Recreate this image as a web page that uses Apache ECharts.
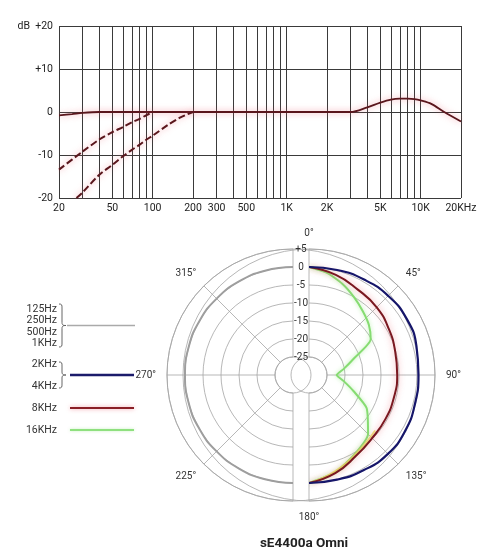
<!DOCTYPE html>
<html><head><meta charset="utf-8">
<script src="https://cdn.jsdelivr.net/npm/echarts@6/dist/echarts.min.js"></script>
<style>html,body{margin:0;padding:0;background:#fff}#c{width:500px;height:559px}</style>
</head><body><div id="c"></div>
<script>
// ---- Frequency response (top) ----
const freqGrid = [20,30,40,50,60,70,80,90,100,200,300,400,500,600,700,800,900,1000,2000,3000,4000,5000,6000,7000,8000,9000,10000,20000];
const freqTickLabels = ['20','','','50','','','','','100','200','300','','500','','','','','1K','2K','','','5K','','','','','10K','20KHz'];
const dbTicks = [-20,-10,0,10,20];

const respFreq = [20,25,30,40,60,100,300,1000,2000,3000,4000,5000,6000,7000,8000,9000,10000,12000,15000,20000];
const respDb   = [-0.8,-0.5,-0.2,0,0,0,0,0,0,0,1.1,2.2,2.9,3.1,3.1,3.0,2.7,1.9,0,-2.2];
const cut1Freq = [20,30,40,50,60,70,80,90,100];
const cut1Db   = [-13.4,-9.2,-6.4,-4.7,-3.5,-2.4,-1.6,-0.7,0];
const cut2Freq = [27,30,40,50,60,70,80,90,100,130,160,200];
const cut2Db   = [-20,-18.7,-14.6,-12.3,-10.3,-8.8,-7.6,-6.4,-5.5,-3.0,-1.3,0];

// ---- Polar pattern (bottom) ----
const rightAngles = [0,15,30,45,60,75,90,105,120,135,150,165,180];
const blueDb  = [0,0.2,0.6,1.1,1.3,0.9,0.4,0.5,0.9,1.0,0.5,0.1,0];
const redDb   = [0,-1.2,-2.7,-3.4,-4.4,-5.2,-5.5,-5.6,-5.5,-5.2,-4.0,-1.8,0];
const greenAngles = [0,10,20,30,40,50,60,70,80,90,100,110,120,135,150,165,180];
const greenDb = [0,-1.2,-3.0,-5.0,-6.8,-8.3,-10.2,-16.8,-20.2,-22.3,-20.2,-16.8,-11.5,-6.8,-4.6,-2.0,0];
const yellowAngles = [130,140,150,160,170,180];
const yellowDb = [-6.0,-5.4,-4.4,-3.0,-1.5,0];
const leftAngles = [180,195,210,225,240,255,270,285,300,315,330,345,360];
const grayDb = [0,0,0,0,0,0,0,0,0,0,0,0,0];
const ringLabels = ['-25','-20','-15','-10','-5','0','+5'];

const legendTexts = [['125Hz',309],['250Hz',320.7],['500Hz',332],['1KHz',343.3],['2KHz',364],['4KHz',386.7],['8KHz',408],['16KHz',430]];

const chart = echarts.init(document.getElementById('c'));
const F = 'Roboto, "Noto Sans", sans-serif';
const gridCol = '#3a3a3a';
const polCol = '#a5a5a5';
const toPairs = (xs, ys) => xs.map((x,i)=>[x, ys[i]]);
const toPolar = (angs, dbs) => angs.map((a,i)=>[dbs[i], a]);
const redLine = {color:'#5a161c', width:1.8, shadowColor:'rgba(235,90,105,0.6)', shadowBlur:6};

function brace(x0, yT, yB) {
  const yM = (yT + yB) / 2, xm = x0 + 3, xt = x0 + 7;
  const st = {stroke:'#555', lineWidth:0.9, fill:null};
  return [
    {type:'bezierCurve', shape:{x1:x0,y1:yT,cpx1:xm,cpy1:yT,cpx2:xm,cpy2:yT+1,x2:xm,y2:yT+4}, style:st},
    {type:'line', shape:{x1:xm,y1:yT+4,x2:xm,y2:yM-3}, style:st},
    {type:'bezierCurve', shape:{x1:xm,y1:yM-3,cpx1:xm,cpy1:yM,cpx2:xm+2,cpy2:yM,x2:xt,y2:yM}, style:st},
    {type:'bezierCurve', shape:{x1:xt,y1:yM,cpx1:xm+2,cpy1:yM,cpx2:xm,cpy2:yM,x2:xm,y2:yM+3}, style:st},
    {type:'line', shape:{x1:xm,y1:yM+3,x2:xm,y2:yB-4}, style:st},
    {type:'bezierCurve', shape:{x1:xm,y1:yB-4,cpx1:xm,cpy1:yB-1,cpx2:xm,cpy2:yB,x2:x0,y2:yB}, style:st}
  ];
}

const graphics = [];
legendTexts.forEach(([t,y]) => graphics.push({type:'text', x:57, y:y, style:{text:t, fill:'#333', font:'10.5px '+F, align:'right', verticalAlign:'middle'}}));
graphics.push(...brace(59, 304, 347));
graphics.push(...brace(59, 362, 388));
graphics.push({type:'line', shape:{x1:67,y1:325.5,x2:135,y2:325.5}, style:{stroke:'#aaa', lineWidth:1.5}});
graphics.push({type:'line', shape:{x1:70,y1:375,x2:134,y2:375}, style:{stroke:'#1b1b6b', lineWidth:2.5}});
graphics.push({type:'line', shape:{x1:70,y1:408,x2:134,y2:408}, style:{stroke:'#8a1f26', lineWidth:2, shadowColor:'rgba(235,90,105,0.6)', shadowBlur:4}});
graphics.push({type:'line', shape:{x1:70,y1:430,x2:134,y2:430}, style:{stroke:'#8fe07f', lineWidth:2, shadowColor:'rgba(140,230,120,0.5)', shadowBlur:3}});
graphics.push({type:'text', x:304, y:544, style:{text:'sE4400a Omni', fill:'#222', font:'bold 13.5px '+F, align:'center', verticalAlign:'middle'}});

const angleCommon = {
  type:'value', interval:45, clockwise:true,
  axisLine:{lineStyle:{color:polCol, width:0.8}},
  axisTick:{show:false},
  splitLine:{lineStyle:{color:polCol, width:0.8}},
};
const radiusCommon = {
  type:'value', min:-25, max:5, interval:5,
  axisLine:{show:false}, axisTick:{show:false},
  splitLine:{lineStyle:{color:polCol, width:0.8}}
};

chart.setOption({
  animation:false,
  textStyle:{fontFamily:F},
  grid:{left:59, right:39, top:26, height:172},
  xAxis:{type:'log', logBase:10, min:20, max:20000, axisLine:{show:false}, axisTick:{show:false}, axisLabel:{show:false}, splitLine:{show:false}},
  yAxis:{type:'value', min:-20, max:20, interval:10,
    axisLine:{show:false}, axisTick:{show:false},
    splitLine:{lineStyle:{color:gridCol, width:1}},
    axisLabel:{margin:6, color:'#222', fontSize:10.5, formatter:v => v===20 ? 'dB  +20' : (v>0 ? '+'+v : String(v))}
  },
  polar:[
    {center:[309,375], radius:[18,126]},
    {center:[293,375], radius:[18,126]}
  ],
  angleAxis:[
    Object.assign({polarIndex:0, min:0, max:180, startAngle:90, endAngle:-90,
      axisLabel:{margin:11, color:'#333', fontSize:10, formatter:v=>v+'°'}}, angleCommon),
    Object.assign({polarIndex:1, min:180, max:360, startAngle:270, endAngle:90,
      axisLabel:{margin:11, color:'#333', fontSize:10, formatter:v=>(v===225||v===270||v===315)? v+'°' : ''}}, angleCommon)
  ],
  radiusAxis:[
    Object.assign({polarIndex:0, axisLabel:{margin:8, align:'center', color:'#333', fontSize:10,
      formatter:v => ringLabels[(v+25)/5]}}, radiusCommon),
    Object.assign({polarIndex:1, axisLabel:{show:false}}, radiusCommon)
  ],
  graphic: graphics,
  series:[
    {type:'line', xAxisIndex:0, yAxisIndex:0, data:toPairs(respFreq, respDb), smooth:0.3, showSymbol:false, lineStyle:redLine, z:5,
      markLine:{silent:true, symbol:'none', animation:false,
        lineStyle:{color:gridCol, width:1, type:'solid'},
        label:{position:'start', distance:5, color:'#222', fontSize:10.5},
        data: freqGrid.map((f,i)=>({xAxis:f, label:{formatter:freqTickLabels[i]}}))
      }},
    {type:'line', data:toPairs(cut1Freq, cut1Db), smooth:0.3, showSymbol:false, lineStyle:Object.assign({}, redLine, {type:[7,3], width:2}), z:5},
    {type:'line', data:toPairs(cut2Freq, cut2Db), smooth:0.3, showSymbol:false, lineStyle:Object.assign({}, redLine, {type:[7,3], width:2}), z:5},
    {type:'line', coordinateSystem:'polar', polarIndex:1, data:toPolar(leftAngles, grayDb), smooth:true, showSymbol:false,
      lineStyle:{color:'#9e9e9e', width:2}},
    {type:'line', coordinateSystem:'polar', polarIndex:0, data:toPolar(greenAngles, greenDb), smooth:0.2, showSymbol:false,
      lineStyle:{color:'#86dc72', width:2, shadowColor:'rgba(140,230,120,0.6)', shadowBlur:4}},
    {type:'line', coordinateSystem:'polar', polarIndex:0, data:toPolar(yellowAngles, yellowDb), smooth:true, showSymbol:false,
      lineStyle:{color:'#e8dc5a', width:2, opacity:0.8}},
    {type:'line', coordinateSystem:'polar', polarIndex:0, data:toPolar(rightAngles, redDb), smooth:true, showSymbol:false,
      lineStyle:{color:'#7a1820', width:2, shadowColor:'rgba(240,120,130,0.7)', shadowBlur:6}},
    {type:'line', coordinateSystem:'polar', polarIndex:0, data:toPolar(rightAngles, blueDb), smooth:true, showSymbol:false,
      lineStyle:{color:'#16166a', width:2.2}}
  ]
});
</script></body></html>
